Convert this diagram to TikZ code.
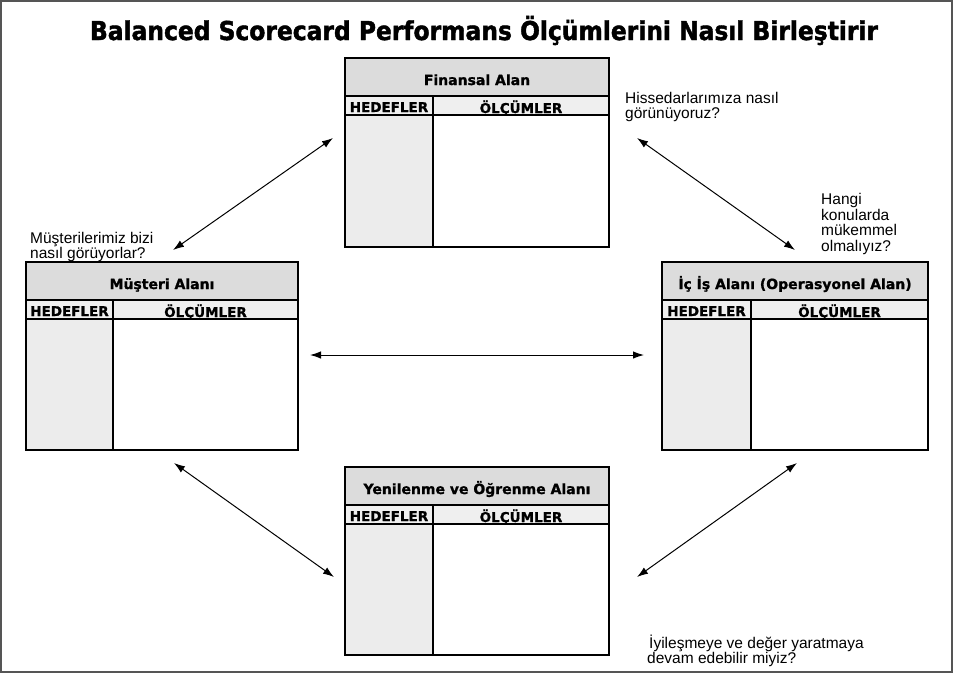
\documentclass[tikz,border=0pt]{standalone}
\usepackage{fontspec}
\usepackage{graphicx}
\usetikzlibrary{arrows.meta}
\setmainfont{Liberation Sans}
\newfontfamily\boxfont{DejaVu Sans}[BoldFeatures={FakeBold=1.2}]
\newfontfamily\titlefont{DejaVu Sans Condensed}[BoldFeatures={FakeBold=1.6}]

\definecolor{hdrgray}{HTML}{DCDCDC}
\definecolor{rowgray}{HTML}{EFEFEF}
\definecolor{colgray}{HTML}{ECECEC}
\definecolor{framegray}{HTML}{555555}

% One scorecard: #1 name, #2 left, #3 top, #4 right, #5 bottom, #6 column divider, #7 title
\newcommand\scorecard[7]{%
  \fill[hdrgray] (#2,#3) rectangle (#4,#3+38);
  \fill[rowgray] (#2,#3+38) rectangle (#4,#3+57);
  \fill[colgray] (#2,#3+57) rectangle (#6,#5);
  \draw[cardrule] (#2,#3+38) -- (#4,#3+38)
                  (#2,#3+57) -- (#4,#3+57)
                  (#6,#3+38) -- (#6,#5);
  \node[cardbox, minimum width={(#4-#2)*1pt}, minimum height={(#5-#3)*1pt}]
       (#1) at ({(#2+#4)/2},{(#3+#5)/2}) {};
  \node[cardtitle] (#1-title) at ({(#2+#4)/2},#3+27) {#7};
  \node[colhead] (#1-goals) at ({(#2+#6)/2},#3+54) {HEDEFLER};
  \node[colhead] (#1-measures) at ({(#6+#4)/2},#3+55) {ÖLÇÜMLER};
}

\begin{document}
\begin{tikzpicture}[x=1pt,y=-1pt,
  cardrule/.style={draw=black, line width=1.6pt},
  cardbox/.style={draw=black, line width=1.6pt, inner sep=0pt, rectangle},
  cardtitle/.style={font=\boxfont\bfseries\fontsize{14}{16}\selectfont, anchor=base, inner sep=0pt},
  colhead/.style={font=\boxfont\bfseries\fontsize{13.5}{16}\selectfont, anchor=base, inner sep=0pt},
  question/.style={font=\fontsize{15.5}{15.5}\selectfont, align=left, anchor=north west, inner sep=0pt},
  dblarrow/.style={{Latex[length=11pt,width=7.5pt]}-{Latex[length=11pt,width=7.5pt]}, line width=1pt, draw=black},
]
\useasboundingbox (0,0) rectangle (953,673);
\fill[white] (0,0) rectangle (953,673);
\draw[framegray, line width=1.5pt] (1,1) rectangle (952,672);

% heading
\node[anchor=base, inner sep=0pt] (heading) at (484,40)
  {\resizebox{788pt}{!}{\titlefont\bfseries\fontsize{25}{25}\selectfont Balanced Scorecard Performans Ölçümlerini Nasıl Birleştirir}};

% the four perspectives
\scorecard{fin}{345}{58}{609}{247}{433}{Finansal Alan}
\scorecard{cust}{26}{262}{298}{450}{113}{Müşteri Alanı}
\scorecard{proc}{662}{262}{928}{450}{751}{İç İş Alanı (Operasyonel Alan)}
\scorecard{learn}{345}{467}{609}{655}{433}{Yenilenme ve Öğrenme Alanı}

% guiding questions
\node[question] (q-fin) at (625,92) {Hissedarlarımıza nasıl\\görünüyoruz?};
\node[question] (q-proc) at (821,193.3) {Hangi\\konularda\\mükemmel\\olmalıyız?};
\node[question] (q-cust) at (30,231.7) {Müşterilerimiz bizi\\nasıl görüyorlar?};
\node[question] (q-learn) at (647,634.5) {\hspace{2pt}İyileşmeye ve değer yaratmaya\\devam edebilir miyiz?};

% arrow ends
\coordinate (cf-a) at (173,250);  \coordinate (cf-b) at (333,138);
\coordinate (fp-a) at (637,138);  \coordinate (fp-b) at (795,250);
\coordinate (cp-a) at (310,355);  \coordinate (cp-b) at (644,355);
\coordinate (cl-a) at (174,463);  \coordinate (cl-b) at (334,577);
\coordinate (pl-a) at (797,463);  \coordinate (pl-b) at (637,577);

\draw[dblarrow] (cf-a) -- (cf-b);
\draw[dblarrow] (fp-a) -- (fp-b);
\draw[dblarrow] (cp-a) -- (cp-b);
\draw[dblarrow] (cl-a) -- (cl-b);
\draw[dblarrow] (pl-a) -- (pl-b);
\end{tikzpicture}
\end{document}
